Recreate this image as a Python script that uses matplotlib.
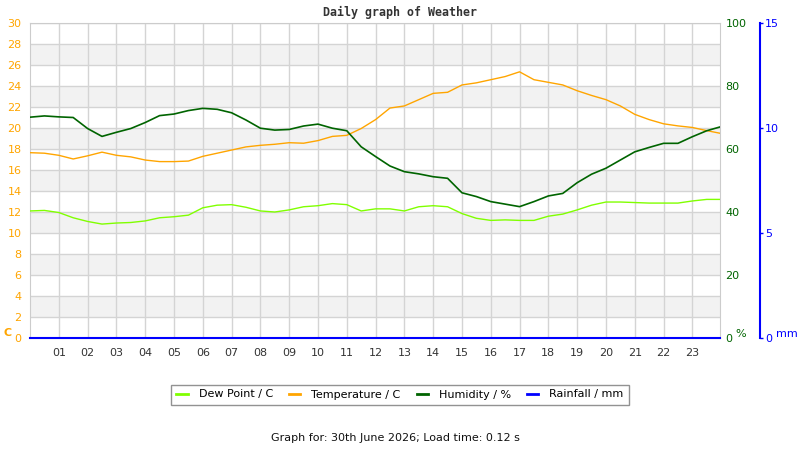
import matplotlib
matplotlib.use("Agg")
import matplotlib.pyplot as plt
from matplotlib.lines import Line2D

plt.rcParams['font.family'] = ['DejaVu Sans']

# ---- data ----
hours = [0.0, 0.5, 1.0, 1.5, 2.0, 2.5, 3.0, 3.5, 4.0, 4.5, 5.0, 5.5, 6.0, 6.5,
         7.0, 7.5, 8.0, 8.5, 9.0, 9.5, 10.0, 10.5, 11.0, 11.5, 12.0, 12.5,
         13.0, 13.5, 14.0, 14.5, 15.0, 15.5, 16.0, 16.5, 17.0, 17.5, 18.0,
         18.5, 19.0, 19.5, 20.0, 20.5, 21.0, 21.5, 22.0, 22.5, 23.0, 23.5, 23.96]

temperature = [17.65, 17.6, 17.4, 17.05, 17.35, 17.7, 17.4, 17.25, 16.95, 16.8,
               16.8, 16.85, 17.3, 17.6, 17.9, 18.2, 18.35, 18.45, 18.6, 18.55,
               18.8, 19.2, 19.3, 19.95, 20.8, 21.9, 22.1, 22.7, 23.3, 23.4,
               24.1, 24.3, 24.6, 24.9, 25.35, 24.6, 24.35, 24.1, 23.55, 23.1,
               22.7, 22.1, 21.3, 20.8, 20.4, 20.2, 20.05, 19.75, 19.5]

humidity = [70.1, 70.5, 70.2, 70.0, 66.5, 64.0, 65.3, 66.5, 68.4, 70.6,
            71.1, 72.2, 72.9, 72.6, 71.5, 69.2, 66.6, 66.0, 66.2, 67.3,
            67.9, 66.6, 65.8, 60.7, 57.6, 54.6, 52.8, 52.1, 51.2, 50.7,
            46.1, 44.9, 43.3, 42.5, 41.7, 43.3, 45.1, 45.9, 49.3, 52.0,
            53.9, 56.5, 59.1, 60.5, 61.8, 61.8, 63.9, 65.8, 67.0]

dew_point = [12.1, 12.15, 11.95, 11.45, 11.1, 10.85, 10.95, 11.0, 11.15, 11.45,
             11.55, 11.7, 12.4, 12.65, 12.7, 12.45, 12.1, 12.0, 12.2, 12.5,
             12.6, 12.8, 12.7, 12.1, 12.3, 12.3, 12.1, 12.5, 12.6, 12.5,
             11.85, 11.4, 11.2, 11.25, 11.2, 11.2, 11.6, 11.8, 12.2, 12.65,
             12.95, 12.95, 12.9, 12.85, 12.85, 12.85, 13.05, 13.2, 13.2]

rainfall = [0.0] * len(hours)

hour_labels = ['%02d' % h for h in range(1, 24)]
temp_ticks = list(range(0, 31, 2))
hum_ticks = [0, 20, 40, 60, 80, 100]
rain_ticks = [0, 5, 10, 15]

# ---- colours ----
C_TEMP = '#ffa500'
C_DEW = '#80ff00'
C_HUM = '#006400'
C_RAIN = '#0000ff'
C_TXT = '#333333'
FS = 8

fig = plt.figure(figsize=(8, 4.5), dpi=100)
ax = fig.add_axes([30 / 800, 1 - 338 / 450, 690 / 800, 315 / 450])

ax.set_xlim(0, 23.96)
ax.set_ylim(0, 30)

# alternating bands
for lo in range(2, 30, 4):
    ax.axhspan(lo, lo + 2, color='#f2f2f2', zorder=0, lw=0)

ax.set_yticks(temp_ticks)
ax.set_xticks(range(1, 24))
ax.set_xticklabels(hour_labels)
ax.grid(True, color='#d4d4d4', linewidth=1.0, zorder=1)
ax.set_axisbelow(True)
ax.tick_params(axis='y', length=0, pad=6, labelsize=FS, labelcolor=C_TEMP)
ax.tick_params(axis='x', length=0, pad=7.5, labelsize=FS, labelcolor=C_TXT)
for s in ax.spines.values():
    s.set_color('#cccccc')

# humidity axis
axh = ax.twinx()
axh.set_ylim(0, 100)
axh.set_yticks(hum_ticks)
axh.tick_params(axis='y', length=0, pad=4, labelsize=FS, labelcolor=C_HUM)
for s in axh.spines.values():
    s.set_visible(False)

# rainfall axis
axr = ax.twinx()
axr.set_ylim(0, 15)
axr.set_yticks(rain_ticks)
axr.spines['right'].set_position(('axes', (760 - 30) / 690))
axr.spines['right'].set_color(C_RAIN)
axr.spines['right'].set_linewidth(1.5)
for k in ('left', 'top', 'bottom'):
    axr.spines[k].set_visible(False)
axr.tick_params(axis='y', length=2, width=1, colors=C_RAIN, pad=1.5, labelsize=FS)

# series
ax.plot(hours, dew_point, color=C_DEW, lw=1.0, zorder=3)
ax.plot(hours, temperature, color=C_TEMP, lw=1.0, zorder=3)
axh.plot(hours, humidity, color=C_HUM, lw=1.2, zorder=3)
axr.plot(hours, rainfall, color=C_RAIN, lw=1.5, zorder=4, clip_on=False)

# axis unit labels
fig.text(3 / 800, 1 - 333 / 450, 'C', color=C_TEMP, fontsize=FS, fontweight='bold',
         va='center', ha='left')
fig.text(735 / 800, 1 - 334 / 450, '%', color=C_HUM, fontsize=FS,
         va='center', ha='left')
fig.text(776 / 800, 1 - 334 / 450, 'mm', color=C_RAIN, fontsize=FS,
         va='center', ha='left')

# title
fig.text(400 / 800, 1 - 12.5 / 450, 'Daily graph of Weather', ha='center', va='center',
         fontsize=8.4, fontweight='bold', family='DejaVu Sans Mono', color=C_TXT)

# legend
handles = [Line2D([], [], color=C_DEW, lw=2),
           Line2D([], [], color=C_TEMP, lw=2),
           Line2D([], [], color=C_HUM, lw=2),
           Line2D([], [], color=C_RAIN, lw=2)]
labels = ['Dew Point / C', 'Temperature / C', 'Humidity / %', 'Rainfall / mm']
leg = fig.legend(handles, labels, loc='center', bbox_to_anchor=(400 / 800, 1 - 394.5 / 450),
                 ncol=4, fontsize=FS, frameon=True, fancybox=False, handlelength=1.0,
                 handletextpad=1.0, columnspacing=1.45, borderpad=0.45, borderaxespad=0)
leg.get_frame().set_edgecolor('#777777')
leg.get_frame().set_linewidth(1.0)

fig.text(395 / 800, 1 - 438 / 450, 'Graph for: 30th June 2026; Load time: 0.12 s',
         ha='center', va='center', fontsize=FS, color='#111111')

fig.savefig('out.png', dpi=100)
